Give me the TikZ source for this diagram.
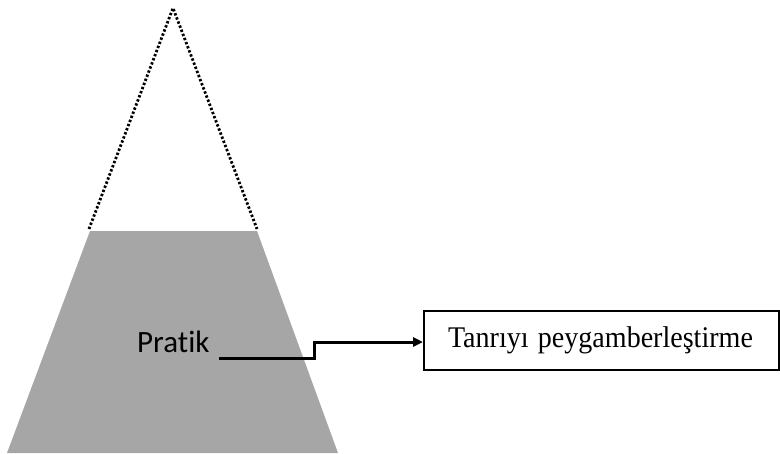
\documentclass[tikz,border=0pt]{standalone}
\usepackage{fontspec}
\setmainfont{Liberation Serif}
\newfontfamily\calib[Ligatures=NoCommon]{Carlito}
\usetikzlibrary{arrows.meta}
\definecolor{mount}{HTML}{A6A6A6}
\begin{document}
\begin{tikzpicture}[x=1pt,y=-1pt,
  dotline/.style={line width=2.8pt,dash pattern=on 2.4pt off 2.0pt},
  conn/.style={line width=3pt,-{Triangle[length=10pt,width=9pt]}},
  boxnode/.style={draw,line width=2pt,minimum height=59pt,anchor=north west,inner xsep=0pt,text width=355pt,align=left,font=\fontsize{30}{32}\selectfont},
  lbl/.style={font=\calib\fontsize{31}{34}\selectfont,inner sep=0pt}]
\useasboundingbox (0,0) rectangle (780,453);
\fill[mount] (90,231) -- (257,231) -- (338,453) -- (7,453) -- cycle;
\coordinate (apex) at (173,8);
\coordinate (tl) at (89,229);
\coordinate (tr) at (257,229);
\draw[dotline] (tl) -- (apex) -- (tr);
\node[lbl,anchor=base west] (pratik) at (137,352) {Pratik};
\node[boxnode] (box) at (423,310) {\hspace*{24pt}\scalebox{0.935}[1]{Tanrıyı peygamberleştirme}};
\coordinate (s) at (219,358);
\draw[conn] (s) -- (314,358) -- (314,342) -- (box.west |- 0,342);
\end{tikzpicture}
\end{document}
